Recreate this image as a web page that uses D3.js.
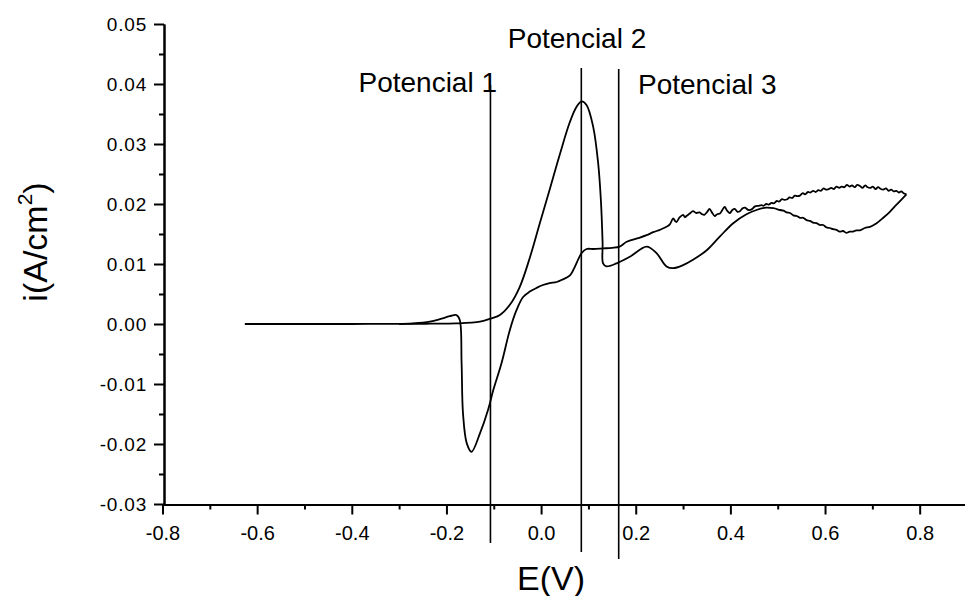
<!DOCTYPE html>
<html>
<head>
<meta charset="utf-8">
<script src="https://cdn.jsdelivr.net/npm/d3@7"></script>
<style>
  html, body { margin: 0; padding: 0; background: #fff; }
  svg { display: block; }
  text { font-family: "Liberation Sans", Arial, Helvetica, sans-serif; fill: #000; }
</style>
</head>
<body>
<svg id="chart" width="965" height="596"></svg>
<script>
// ---------- data (E in V, i in A/cm2) ----------
const forwardScan = [
  [-0.626, 0], [-0.5, 0], [-0.4, 0], [-0.3, 0.00002], [-0.235, 0.00005], [-0.18, 0.0001],
  [-0.129, 0.0004], [-0.105, 0.00095], [-0.087, 0.0015], [-0.066, 0.0032], [-0.045, 0.0062],
  [-0.024, 0.0110], [-0.003, 0.0167], [0.0185, 0.0225], [0.0397, 0.0283], [0.061, 0.0337],
  [0.075, 0.0362], [0.0855, 0.0371], [0.096, 0.0365], [0.110, 0.0329], [0.1206, 0.0268],
  [0.1263, 0.0207], [0.130, 0.0135], [0.131, 0.0101], [0.138, 0.0096], [0.1595, 0.0101],
  [0.1875, 0.0112], [0.223, 0.0129], [0.244, 0.0118], [0.265, 0.0096], [0.279, 0.0093],
  [0.300, 0.0098], [0.321, 0.0107], [0.350, 0.0123], [0.378, 0.0146], [0.406, 0.0168],
  [0.434, 0.0183], [0.455, 0.0190], [0.476, 0.0194], [0.491, 0.0193], [0.505, 0.0190],
  [0.512, 0.0189], [0.519, 0.0186], [0.526, 0.0185], [0.533, 0.0181], [0.540, 0.0180],
  [0.547, 0.0177], [0.554, 0.0177], [0.561, 0.0173], [0.568, 0.0172], [0.575, 0.0169],
  [0.582, 0.0168], [0.589, 0.0165], [0.596, 0.0165], [0.603, 0.0161], [0.610, 0.0160],
  [0.617, 0.0158], [0.624, 0.0157], [0.631, 0.0154], [0.638, 0.0155], [0.645, 0.0152],
  [0.652, 0.0154], [0.659, 0.0154], [0.666, 0.0156], [0.673, 0.0156], [0.684, 0.0160],
  [0.695, 0.0162], [0.709, 0.0168], [0.723, 0.0177], [0.737, 0.0187], [0.750, 0.0198],
  [0.761, 0.0207], [0.772, 0.0216]
];
const reverseScan = [
  [0.772, 0.0216], [0.766, 0.0218], [0.761, 0.0221], [0.756, 0.0219], [0.751, 0.0222],
  [0.745, 0.0221], [0.740, 0.0224], [0.734, 0.0222], [0.729, 0.0226], [0.723, 0.0224],
  [0.718, 0.0225], [0.712, 0.0228], [0.707, 0.0225], [0.701, 0.0229], [0.696, 0.0227],
  [0.690, 0.0228], [0.685, 0.0231], [0.679, 0.0227], [0.674, 0.0230], [0.668, 0.0232],
  [0.663, 0.0228], [0.657, 0.0231], [0.652, 0.0229], [0.646, 0.0232], [0.641, 0.0228],
  [0.635, 0.0229], [0.630, 0.0227], [0.624, 0.0229], [0.619, 0.0225], [0.613, 0.0227],
  [0.608, 0.0225], [0.602, 0.0224], [0.597, 0.0226], [0.591, 0.0222], [0.586, 0.0223],
  [0.580, 0.0220], [0.575, 0.0222], [0.569, 0.0219], [0.564, 0.0220], [0.558, 0.0216],
  [0.553, 0.0218], [0.547, 0.0214], [0.542, 0.0213], [0.536, 0.0214], [0.531, 0.0210],
  [0.525, 0.0211], [0.520, 0.0208], [0.514, 0.0207], [0.509, 0.0208], [0.503, 0.0204],
  [0.498, 0.0205], [0.492, 0.0201], [0.487, 0.0202], [0.481, 0.0199], [0.476, 0.0200],
  [0.470, 0.0197], [0.466, 0.0198], [0.459, 0.0197], [0.452, 0.0196], [0.445, 0.0191],
  [0.438, 0.0190], [0.431, 0.0194], [0.426, 0.0193], [0.420, 0.0188], [0.415, 0.0187],
  [0.409, 0.0192], [0.404, 0.0190], [0.399, 0.0185], [0.393, 0.0189], [0.388, 0.0195],
  [0.383, 0.0190], [0.378, 0.0184], [0.372, 0.0183], [0.367, 0.0180], [0.361, 0.0186],
  [0.356, 0.0192], [0.351, 0.0187], [0.345, 0.0182], [0.340, 0.0183], [0.335, 0.0186],
  [0.328, 0.0185], [0.321, 0.0188], [0.314, 0.0184], [0.307, 0.0180], [0.304, 0.0178],
  [0.300, 0.0182], [0.293, 0.0178], [0.286, 0.0170], [0.283, 0.0172], [0.279, 0.0176],
  [0.272, 0.0166], [0.265, 0.0162], [0.251, 0.0157], [0.237, 0.0153], [0.223, 0.0148],
  [0.205, 0.0143], [0.181, 0.0137], [0.166, 0.0129], [0.150, 0.0127], [0.131, 0.0126],
  [0.110, 0.0125], [0.096, 0.0125], [0.0855, 0.0118], [0.081, 0.0112], [0.068, 0.0090],
  [0.061, 0.0081], [0.045, 0.0074], [0.033, 0.0070], [0.018, 0.0068], [0.004, 0.0065],
  [-0.010, 0.0060], [-0.024, 0.0054], [-0.038, 0.0045], [-0.052, 0.0023], [-0.066, -0.0010],
  [-0.0835, -0.0065], [-0.101, -0.0110], [-0.112, -0.0143], [-0.129, -0.0182],
  [-0.147, -0.0213], [-0.157, -0.0199], [-0.165, -0.0149], [-0.168, -0.0065],
  [-0.172, 0.0007], [-0.179, 0.0015], [-0.193, 0.0013], [-0.214, 0.0008], [-0.235, 0.0004],
  [-0.27, 0.0001], [-0.30, 0]
];
const markerPotentials = [-0.107, 0.085, 0.164];
const markerLabels = ["Potencial 1", "Potencial 2", "Potencial 3"];
const xTickValues = [-0.8, -0.6, -0.4, -0.2, 0.0, 0.2, 0.4, 0.6, 0.8];
const xMinorValues = [-0.7, -0.5, -0.3, -0.1, 0.1, 0.3, 0.5, 0.7];
const yTickValues = [-0.03, -0.02, -0.01, 0.00, 0.01, 0.02, 0.03, 0.04, 0.05];
const yMinorValues = [-0.025, -0.015, -0.005, 0.005, 0.015, 0.025, 0.035, 0.045];
const xTitle = "E(V)";

// ---------- drawing ----------
const svg = d3.select("#chart");
const x = d3.scaleLinear().domain([-0.8, 0.9]).range([162.5, 967]);
const y = d3.scaleLinear().domain([-0.03, 0.05]).range([504, 24]);

// axes
const xAxisG = svg.append("g").attr("transform", "translate(0,504.5)");
xAxisG.call(d3.axisBottom(x).tickValues(xTickValues).tickSize(10).tickSizeOuter(0)
  .tickFormat(d => d.toFixed(1)));
const xMinorG = svg.append("g").attr("transform", "translate(0,504.5)");
xMinorG.call(d3.axisBottom(x).tickValues(xMinorValues).tickSize(5).tickSizeOuter(0).tickFormat(""));

const yAxisG = svg.append("g").attr("transform", "translate(164,0)");
yAxisG.call(d3.axisLeft(y).tickValues(yTickValues).tickSize(10).tickSizeOuter(0)
  .tickFormat(d => d.toFixed(2)));
const yMinorG = svg.append("g").attr("transform", "translate(164,0)");
yMinorG.call(d3.axisLeft(y).tickValues(yMinorValues).tickSize(5).tickSizeOuter(0).tickFormat(""));

svg.selectAll(".domain").attr("stroke", "#000").attr("stroke-width", 2);
svg.selectAll(".tick line").attr("stroke", "#000").attr("stroke-width", 2);
xAxisG.selectAll(".tick text")
  .style("font-size", "20px").attr("y", 21).attr("dy", "0.71em")
  .style("font-family", "'Liberation Sans', Arial, sans-serif").attr("fill", "#000");
yAxisG.selectAll(".tick text")
  .style("font-size", "19px").attr("x", -17).attr("letter-spacing", 0.8)
  .style("font-family", "'Liberation Sans', Arial, sans-serif").attr("fill", "#000");

// curves
const line = d3.line()
  .x(d => x(d[0]))
  .y(d => y(d[1]))
  .curve(d3.curveCatmullRom.alpha(0.5));

[forwardScan, reverseScan].forEach(scan => {
  svg.append("path")
    .datum(scan)
    .attr("d", line)
    .attr("fill", "none")
    .attr("stroke", "#000")
    .attr("stroke-width", 1.8)
    .attr("stroke-linejoin", "round");
});

// potential markers
const markerTop = [85, 68, 69];
const markerBottom = [543, 552, 559];
markerPotentials.forEach((e, k) => {
  svg.append("line")
    .attr("x1", x(e)).attr("x2", x(e))
    .attr("y1", markerTop[k]).attr("y2", markerBottom[k])
    .attr("stroke", "#000").attr("stroke-width", 1.6);
});
const labelPos = [
  { x: 497, y: 92, anchor: "end" },
  { x: 577, y: 48, anchor: "middle" },
  { x: 638, y: 94, anchor: "start" }
];
markerLabels.forEach((t, k) => {
  svg.append("text")
    .attr("x", labelPos[k].x).attr("y", labelPos[k].y)
    .attr("text-anchor", labelPos[k].anchor)
    .style("font-size", "28px")
    .text(t);
});

// axis titles
svg.append("text")
  .attr("x", 551).attr("y", 590)
  .attr("text-anchor", "middle")
  .style("font-size", "34px")
  .text(xTitle);

const yTitle = svg.append("text")
  .attr("transform", "translate(47,242) rotate(-90)")
  .attr("text-anchor", "middle")
  .style("font-size", "34px");
yTitle.append("tspan").text("i(A/cm");
yTitle.append("tspan").style("font-size", "21px").attr("dy", -15).text("2");
yTitle.append("tspan").attr("dy", 15).text(")");
</script>
</body>
</html>
